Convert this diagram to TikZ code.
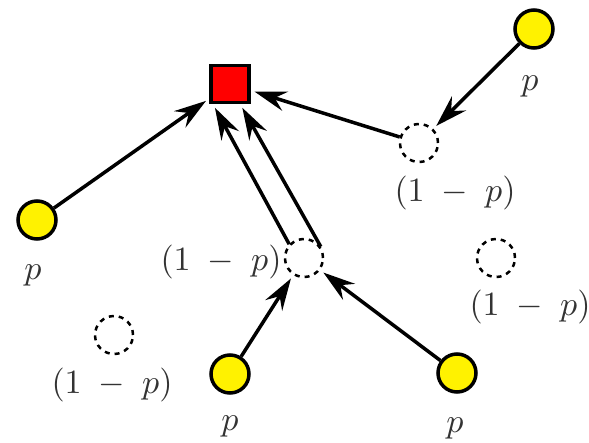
\documentclass[tikz,border=0pt]{standalone}
\usetikzlibrary{arrows.meta}
\newcommand{\lbltxt}[1]{\scalebox{3.4}{$#1$}}
\begin{document}
\begin{tikzpicture}[x=1pt,y=-1pt,
  yel/.style={circle, draw=black, fill=yellow, line width=3.5pt, minimum size=38pt, inner sep=0pt},
  hole/.style={circle, draw=black, dash pattern=on 5pt off 5pt, line width=2.5pt, minimum size=38pt, inner sep=0pt},
  root/.style={rectangle, draw=black, fill=red, line width=3.5pt, minimum width=38pt, minimum height=37pt, inner sep=0pt},
  link/.style={line width=3.5pt, shorten >=4pt, -{Stealth[length=32pt, width=20pt, inset=11pt]}},
  lab/.style={text=black!80, inner sep=0pt}]
\useasboundingbox (0,0) rectangle (589,442);
\fill[white] (0,0) rectangle (589,442);
% nodes
\node[root] (sq) at (230,84) {};
\node[yel] (yTR) at (534,29) {};
\node[hole] (hTR) at (419,143) {};
\node[yel] (yL) at (37,220) {};
\node[hole] (hM) at (304,258) {};
\node[hole] (hR) at (496,258) {};
\node[hole] (hBL) at (114,335) {};
\node[yel] (yBM) at (230,374) {};
\node[yel] (yBR) at (457,373) {};
% labels
\node[lab] (lTR) at (530,86) {\lbltxt{p}};
\node[lab] (lhTR) at (455,193) {\lbltxt{(1\;-\;p)}};
\node[lab] (lL) at (33,275) {\lbltxt{p}};
\node[lab] (lhM) at (221,262) {\lbltxt{(1\;-\;p)}};
\node[lab] (lhR) at (530,307) {\lbltxt{(1\;-\;p)}};
\node[lab] (lhBL) at (112,385) {\lbltxt{(1\;-\;p)}};
\node[lab] (lBM) at (230,426) {\lbltxt{p}};
\node[lab] (lBR) at (455,428) {\lbltxt{p}};
% connectors
\draw[link] (yTR) -- (hTR);
\draw[link] (hTR) -- (sq);
\draw[link] (yL) -- (sq);
\draw[link] (hM.137) -- (sq.-130);
\draw[link] (hM.34) -- (sq.-63);
\draw[link] (yBM) -- (hM);
\draw[link] (yBR) -- (hM);
\end{tikzpicture}
\end{document}
